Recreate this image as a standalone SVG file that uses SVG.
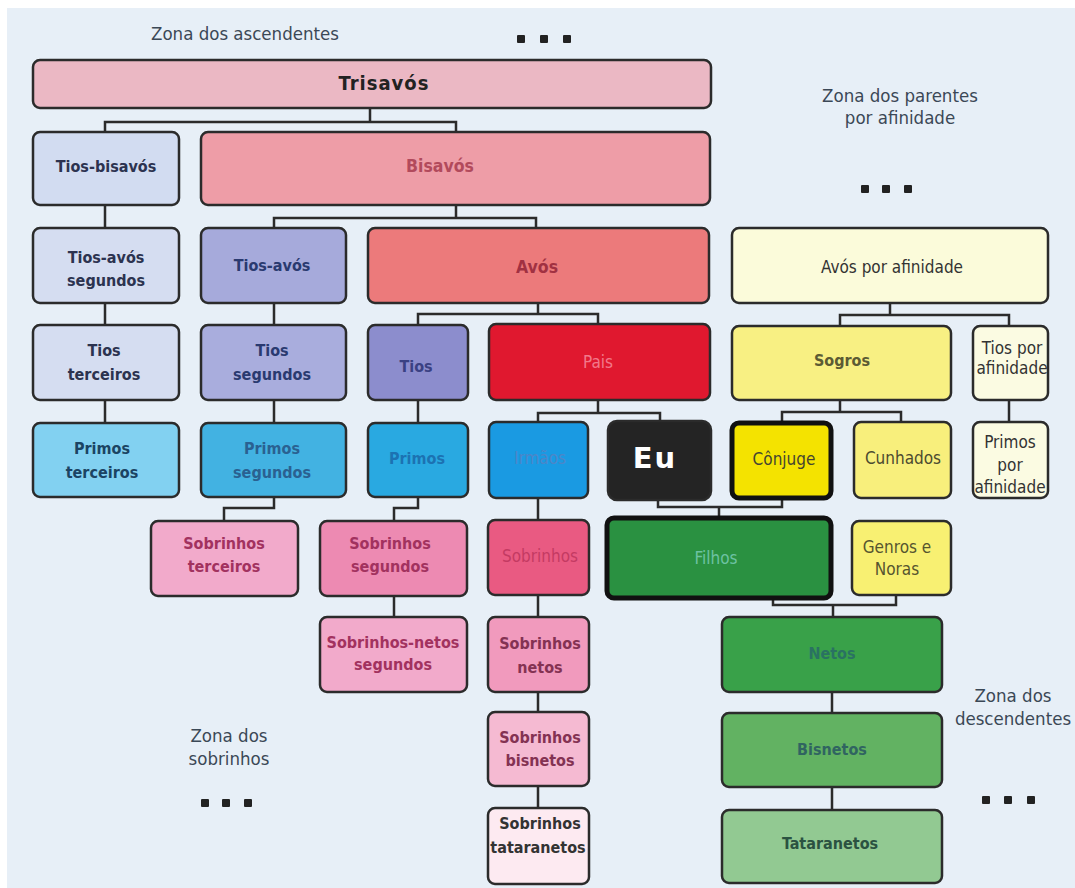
<svg xmlns="http://www.w3.org/2000/svg" width="1075" height="888" viewBox="0 0 1075 888">
<style>
.bg{fill:#e7eff7}
.n rect{stroke:#2b2b2b;stroke-width:2.5}
.thick rect{stroke:#111;stroke-width:5}
text{font-family:"DejaVu Sans Condensed","Liberation Sans Narrow","Liberation Sans",sans-serif;font-size:16px;font-weight:bold;text-anchor:middle;dominant-baseline:central}
text.r{font-weight:normal;font-size:17px}
text.m{font-size:17.5px}
text.zone{fill:#3b4856;font-weight:normal;font-size:18.5px}
text.tri{font-size:20px;letter-spacing:1px}
text.eu{font-family:"DejaVu Sans",sans-serif;font-size:29px;letter-spacing:2px}
.conn path{fill:none;stroke:#2b2b2b;stroke-width:2.5}
.dot{fill:#222}
</style>
<rect class="bg" x="7" y="8" width="1068" height="880"/>

<!-- zone labels -->
<g id="zones">
<text class="zone" x="245" y="33">Zona dos ascendentes</text>
<text class="zone" x="900" y="95">Zona dos parentes</text>
<text class="zone" x="900" y="117">por afinidade</text>
<text class="zone" x="229" y="735">Zona dos</text>
<text class="zone" x="229" y="758">sobrinhos</text>
<text class="zone" x="1013" y="695">Zona dos</text>
<text class="zone" x="1013" y="718">descendentes</text>
<g class="dot">
<rect x="517" y="35" width="8" height="8" rx="1"/><rect x="540" y="35" width="8" height="8" rx="1"/><rect x="563" y="35" width="8" height="8" rx="1"/>
<rect x="861" y="185" width="8" height="8" rx="1"/><rect x="882" y="185" width="8" height="8" rx="1"/><rect x="904" y="185" width="8" height="8" rx="1"/>
<rect x="201" y="799" width="8" height="8" rx="1"/><rect x="222" y="799" width="8" height="8" rx="1"/><rect x="244" y="799" width="8" height="8" rx="1"/>
<rect x="982" y="796" width="8" height="8" rx="1"/><rect x="1004" y="796" width="8" height="8" rx="1"/><rect x="1027" y="796" width="8" height="8" rx="1"/>
</g>
</g>

<!-- connectors -->
<g id="connectors" class="conn">
<path d="M370 108V122H105V132M370 122H456V132"/>
<path d="M456 205V218H274V228M456 218H536V228"/>
<path d="M105 205V228M105 303V325M105 400V423"/>
<path d="M274 303V325M274 400V423"/>
<path d="M538 303V314H418V325M538 314H598V324"/>
<path d="M418 400V423"/>
<path d="M890 303V315H840V326M890 315H1009V326"/>
<path d="M1009 400V422"/>
<path d="M598 400V413H538V422M598 413H660V421"/>
<path d="M840 400V412H782V422M840 412H901V422"/>
<path d="M274 497V508H224V521"/>
<path d="M418 497V508H394V521"/>
<path d="M394 596V617"/>
<path d="M538 498V520M538 595V617M538 692V712M538 786V808"/>
<path d="M658 500V507H782V498M719 507V518"/>
<path d="M773 598V605H896V595M833 605V617"/>
<path d="M832 692V713M832 787V810"/>
</g>

<g id="trisavos" class="n"><rect x="33" y="60" width="678" height="48" rx="7" fill="#ebb8c4"/><text class="tri" x="384" y="83" fill="#222">Trisavós</text></g>
<g id="tios-bisavos" class="n"><rect x="33" y="132" width="146" height="73" rx="7" fill="#d2dcf1"/><text x="106" y="166" fill="#2c3350">Tios-bisavós</text></g>
<g id="bisavos" class="n"><rect x="201" y="132" width="509" height="73" rx="7" fill="#ee9da7"/><text class="m" x="440" y="166" fill="#b24a5c">Bisavós</text></g>

<g id="tios-avos-segundos" class="n"><rect x="33" y="228" width="146" height="75" rx="7" fill="#d5ddf1"/><text x="106" y="257" fill="#2c3350">Tios-avós</text><text x="106" y="280" fill="#2c3350">segundos</text></g>
<g id="tios-avos" class="n"><rect x="201" y="228" width="145" height="75" rx="7" fill="#a6aadb"/><text x="272" y="265" fill="#2a3a70">Tios-avós</text></g>
<g id="avos" class="n"><rect x="368" y="228" width="341" height="75" rx="7" fill="#ec7a7b"/><text class="m" x="537" y="267" fill="#a13142">Avós</text></g>
<g id="avos-afinidade" class="n"><rect x="732" y="228" width="316" height="75" rx="7" fill="#fbfbda"/><text class="r" x="892" y="267" fill="#333">Avós por afinidade</text></g>

<g id="tios-terceiros" class="n"><rect x="33" y="325" width="146" height="75" rx="7" fill="#d5ddf1"/><text x="104" y="350" fill="#2c3350">Tios</text><text x="104" y="374" fill="#2c3350">terceiros</text></g>
<g id="tios-segundos" class="n"><rect x="201" y="325" width="145" height="75" rx="7" fill="#a9addd"/><text x="272" y="350" fill="#2a3a70">Tios</text><text x="272" y="374" fill="#2a3a70">segundos</text></g>
<g id="tios" class="n"><rect x="368" y="325" width="100" height="75" rx="7" fill="#8c8dcd"/><text x="416" y="366" fill="#3a4183">Tios</text></g>
<g id="pais" class="n"><rect x="489" y="324" width="221" height="76" rx="7" fill="#e0182f"/><text class="r" x="598" y="362" fill="#f2788a">Pais</text></g>
<g id="sogros" class="n"><rect x="732" y="326" width="219" height="74" rx="7" fill="#f8f083"/><text x="842" y="360" fill="#5c5b34">Sogros</text></g>
<g id="tios-afinidade" class="n"><rect x="973" y="326" width="75" height="74" rx="7" fill="#fbfbe2"/><text class="r" x="1012" y="348" fill="#333">Tios por</text><text class="r" x="1012" y="368" fill="#333">afinidade</text></g>

<g id="primos-terceiros" class="n"><rect x="33" y="423" width="146" height="74" rx="7" fill="#82d1f1"/><text x="102" y="448" fill="#1b4463">Primos</text><text x="102" y="472" fill="#1b4463">terceiros</text></g>
<g id="primos-segundos" class="n"><rect x="201" y="423" width="145" height="74" rx="7" fill="#42b2e2"/><text x="272" y="448" fill="#2a6191">Primos</text><text x="272" y="472" fill="#2a6191">segundos</text></g>
<g id="primos" class="n"><rect x="368" y="423" width="100" height="74" rx="7" fill="#29a9e1"/><text x="417" y="458" fill="#1c72b2">Primos</text></g>
<g id="irmaos" class="n"><rect x="489" y="422" width="99" height="76" rx="7" fill="#1a9ae2"/><text class="r" x="540" y="458" fill="#4c86c8">Irmãos</text></g>
<g id="eu" class="n"><rect x="608" y="421" width="103" height="79" rx="9" fill="#242424" stroke="#111"/><text class="eu" x="655" y="458" fill="#fff">Eu</text></g>
<g id="conjuge" class="n thick"><rect x="732" y="423" width="99" height="75" rx="7" fill="#f4e300"/><text class="r" x="784" y="459" fill="#454530">Cônjuge</text></g>
<g id="cunhados" class="n"><rect x="854" y="422" width="97" height="76" rx="7" fill="#f8ef7c"/><text class="r" x="903" y="458" fill="#4c4b30">Cunhados</text></g>
<g id="primos-afinidade" class="n"><rect x="973" y="422" width="75" height="76" rx="7" fill="#fbfbe2"/><text class="r" x="1010" y="442" fill="#333">Primos</text><text class="r" x="1010" y="465" fill="#333">por</text><text class="r" x="1010" y="487" fill="#333">afinidade</text></g>

<g id="sobrinhos-terceiros" class="n"><rect x="151" y="521" width="147" height="75" rx="7" fill="#f2aacb"/><text x="224" y="543" fill="#a2325f">Sobrinhos</text><text x="224" y="566" fill="#a2325f">terceiros</text></g>
<g id="sobrinhos-segundos" class="n"><rect x="320" y="521" width="147" height="75" rx="7" fill="#ed8ab2"/><text x="390" y="543" fill="#a2325f">Sobrinhos</text><text x="390" y="566" fill="#a2325f">segundos</text></g>
<g id="sobrinhos" class="n"><rect x="488" y="520" width="101" height="75" rx="7" fill="#e95a82"/><text class="r" x="540" y="556" fill="#c43a63">Sobrinhos</text></g>
<g id="filhos" class="n thick"><rect x="607" y="518" width="224" height="80" rx="7" fill="#2a9141"/><text class="r" x="716" y="558" fill="#6dc2a2">Filhos</text></g>
<g id="genros-noras" class="n"><rect x="852" y="521" width="99" height="74" rx="7" fill="#f8f072"/><text class="r" x="897" y="547" fill="#56552f">Genros e</text><text class="r" x="897" y="569" fill="#56552f">Noras</text></g>

<g id="sobrinhos-netos-segundos" class="n"><rect x="320" y="617" width="147" height="75" rx="7" fill="#f2aacb"/><text x="393" y="642" fill="#a2325f">Sobrinhos-netos</text><text x="393" y="664" fill="#a2325f">segundos</text></g>
<g id="sobrinhos-netos" class="n"><rect x="488" y="617" width="101" height="75" rx="7" fill="#f19abd"/><text x="540" y="643" fill="#843253">Sobrinhos</text><text x="540" y="667" fill="#843253">netos</text></g>
<g id="netos" class="n"><rect x="722" y="617" width="220" height="75" rx="7" fill="#39a149"/><text x="832" y="653" fill="#2a7262">Netos</text></g>

<g id="sobrinhos-bisnetos" class="n"><rect x="488" y="712" width="101" height="74" rx="7" fill="#f5bad2"/><text x="540" y="737" fill="#843253">Sobrinhos</text><text x="540" y="760" fill="#843253">bisnetos</text></g>
<g id="bisnetos" class="n"><rect x="722" y="713" width="220" height="74" rx="7" fill="#62b262"/><text x="832" y="749" fill="#306461">Bisnetos</text></g>

<g id="sobrinhos-tataranetos" class="n"><rect x="488" y="808" width="101" height="76" rx="7" fill="#fdeaf1"/><text x="540" y="823" fill="#333">Sobrinhos</text><text x="538" y="847" fill="#333">tataranetos</text></g>
<g id="tataranetos" class="n"><rect x="722" y="810" width="220" height="73" rx="7" fill="#92c992"/><text x="830" y="843" fill="#2b5241">Tataranetos</text></g>
</svg>
